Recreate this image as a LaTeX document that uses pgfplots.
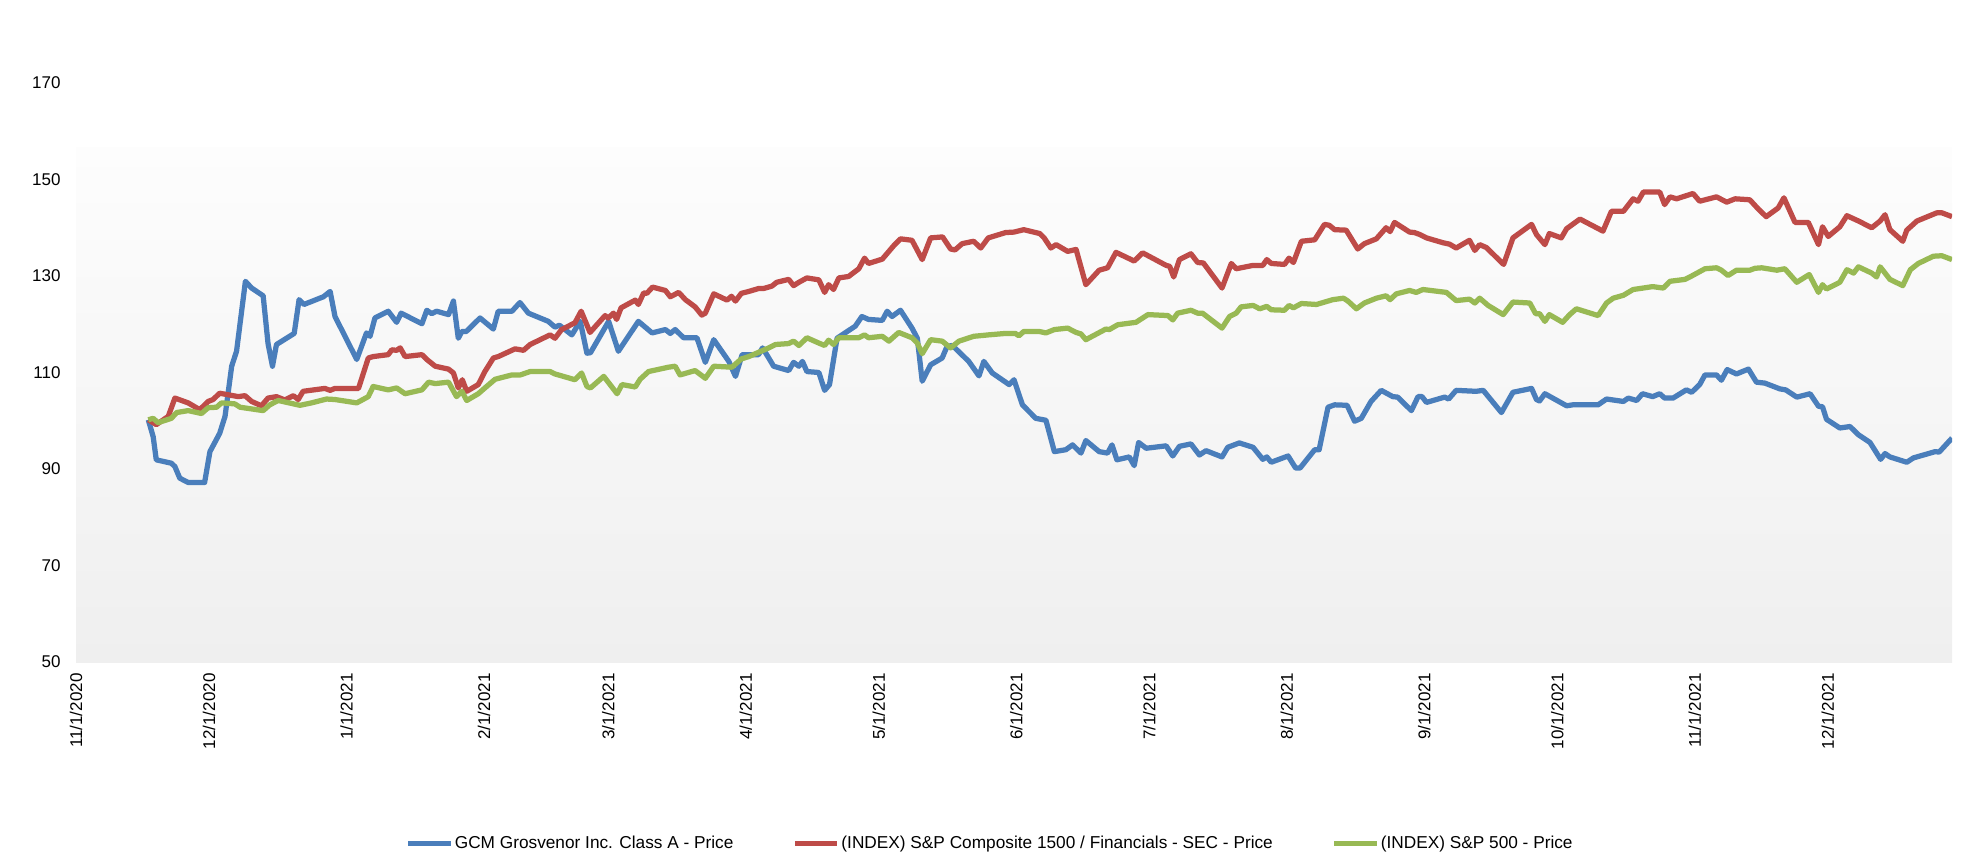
\documentclass[border=0pt]{standalone}
\usepackage{fontspec}
\setmainfont{Liberation Sans}
\usepackage{pgfplots}
\pgfplotsset{compat=1.18}
\definecolor{cblue}{HTML}{4A7EBB}
\definecolor{cred}{HTML}{BE4B48}
\definecolor{cgreen}{HTML}{98B954}
\definecolor{bgtop}{HTML}{FDFDFD}
\definecolor{bgbot}{HTML}{EFEFEF}
\begin{document}
\begin{tikzpicture}[font=\fontsize{6.8}{8}\selectfont]
\begin{axis}[
  at={(30.4pt,80.4pt)}, anchor=south west,
  width=750.4pt, height=231.6pt, scale only axis,
  xmin=0, xmax=423, ymin=50, ymax=170,
  axis line style={draw=none},
  tick style={draw=none},
  major tick length=0pt,
  ytick={50,70,90,110,130,150,170},
  /pgf/number format/assume math mode=true,
  xtick={0,30,61,92,120,151,181,212,242,273,304,334,365,395},
  xticklabels={11/1/2020,12/1/2020,1/1/2021,2/1/2021,3/1/2021,4/1/2021,5/1/2021,6/1/2021,7/1/2021,8/1/2021,9/1/2021,10/1/2021,11/1/2021,12/1/2021},
  xticklabel style={yshift=-4.4pt, rotate=90, anchor=east, inner sep=0pt},
  yticklabel style={anchor=east, inner sep=0pt, xshift=-6pt},
  legend columns=3,
  legend style={at={(0.4872,-0.3143)}, anchor=center, draw=none, fill=none,
    font=\fontsize{6.9}{8}\selectfont,
    /tikz/every even column/.append style={column sep=23pt},
    nodes={inner sep=0.6pt}},
  legend image code/.code={\draw[#1, line width=2pt] (0pt,0pt) -- (17pt,0pt);},
  every axis plot/.append style={line width=2.1pt, line join=round, no markers},
]
\fill[top color=bgtop, bottom color=bgbot] (axis cs:0,50) rectangle (axis cs:423,156.6);

\addplot[cblue] coordinates {
(16.3,100.2)(17.4,96.7)(18.1,91.9)(21.5,91.2)(22.3,90.5)(23.4,88.1)(25.3,87.2)(29.0,87.2)(30.2,93.6)(32.4,97.4)(33.6,100.9)(35.1,111.3)(36.2,114.4)(38.2,128.9)(39.6,127.5)(42.2,125.9)(43.3,116.0)(44.3,111.3)(45.2,115.8)(49.2,118.1)(50.3,125.1)(51.4,124.1)(55.8,125.7)(57.3,126.8)(58.4,121.6)(63.3,112.7)(65.5,118.2)(66.3,117.5)(67.4,121.3)(70.4,122.7)(72.3,120.4)(73.3,122.3)(78.0,120.1)(79.1,122.9)(80.2,122.2)(81.3,122.7)(84.0,122.0)(85.1,124.8)(86.2,117.1)(87.0,118.5)(88.0,118.5)(91.1,121.3)(94.1,119.0)(95.2,122.7)(98.3,122.7)(100.1,124.5)(102.0,122.3)(106.5,120.6)(108.0,119.4)(109.0,119.8)(111.8,117.8)(113.7,120.6)(115.2,114.0)(116.0,114.1)(120.1,120.6)(122.3,114.4)(126.8,120.6)(129.9,118.2)(132.9,118.9)(134.0,118.1)(135.1,118.9)(137.0,117.2)(140.0,117.2)(141.9,112.1)(143.8,116.8)(147.2,112.3)(148.7,109.2)(150.2,113.7)(153.9,113.7)(154.8,115.1)(156.2,113.0)(157.3,111.3)(160.7,110.4)(161.8,112.1)(163.0,111.3)(163.8,112.3)(164.8,110.2)(167.5,110.0)(168.8,106.3)(169.9,107.5)(171.6,117.1)(175.7,119.6)(177.2,121.6)(178.7,121.0)(181.8,120.8)(182.9,122.7)(184.0,121.6)(185.9,122.9)(188.5,119.2)(189.7,117.1)(190.8,108.2)(192.7,111.6)(195.3,113.0)(196.4,115.4)(197.6,115.6)(201.3,112.3)(203.6,109.3)(204.7,112.3)(206.6,109.9)(210.4,107.5)(211.5,108.5)(213.4,103.3)(216.4,100.5)(218.7,100.1)(220.6,93.6)(223.2,94.0)(224.7,95.0)(226.6,93.3)(227.7,95.9)(230.7,93.6)(232.6,93.3)(233.6,95.0)(234.7,91.9)(237.5,92.5)(238.6,90.7)(239.6,95.5)(241.3,94.3)(245.8,94.8)(247.3,92.7)(248.8,94.7)(251.4,95.2)(253.3,92.9)(254.8,93.8)(258.4,92.5)(259.7,94.5)(262.3,95.4)(265.4,94.5)(267.6,92.0)(268.5,92.5)(269.5,91.4)(273.3,92.7)(275.0,90.2)(276.0,90.2)(279.3,94.0)(280.3,94.0)(282.3,102.8)(283.8,103.3)(286.6,103.2)(288.3,99.9)(289.8,100.5)(292.0,104.0)(294.3,106.3)(296.9,105.0)(298.0,104.9)(301.1,102.1)(302.6,105.0)(303.5,105.0)(304.5,103.8)(308.6,104.9)(309.5,104.5)(311.2,106.3)(315.7,106.1)(317.3,106.3)(321.4,101.7)(324.0,105.9)(328.2,106.7)(329.3,104.4)(330.0,104.1)(331.2,105.6)(336.1,103.1)(337.5,103.3)(339.8,103.3)(343.2,103.3)(345.1,104.5)(348.9,104.0)(350.0,104.7)(351.9,104.2)(353.2,105.6)(355.5,105.0)(357.1,105.6)(358.2,104.7)(360.1,104.7)(363.1,106.4)(364.3,105.9)(366.1,107.5)(367.3,109.5)(369.9,109.5)(371.0,108.4)(372.3,110.6)(374.4,109.7)(377.1,110.7)(378.9,108.0)(380.8,107.8)(384.2,106.6)(385.5,106.4)(388.0,104.9)(391.0,105.6)(392.9,103.0)(393.8,102.9)(394.7,100.3)(397.7,98.5)(400.0,98.8)(401.9,97.1)(404.5,95.5)(406.9,92.0)(407.9,93.2)(409.0,92.5)(412.8,91.4)(414.3,92.3)(419.2,93.6)(420.1,93.5)(423.0,96.4)
};
\addlegendentry{GCM Grosvenor Inc. Class A - Price}

\addplot[cred] coordinates {
(16.3,100.2)(18.1,99.2)(20.8,100.9)(22.3,104.7)(25.3,103.7)(27.9,102.3)(29.8,104.0)(30.9,104.4)(32.4,105.7)(36.6,105.0)(38.1,105.2)(39.6,104.0)(41.8,103.1)(43.3,104.7)(45.2,105.0)(47.1,104.3)(49.0,105.2)(50.1,104.4)(51.2,106.1)(56.1,106.7)(57.3,106.3)(58.4,106.7)(63.7,106.7)(65.9,113.0)(67.0,113.3)(70.4,113.7)(71.2,114.7)(72.3,114.6)(73.1,115.1)(74.2,113.3)(78.0,113.7)(79.1,112.7)(81.0,111.3)(84.0,110.7)(85.1,109.9)(86.2,106.8)(87.1,108.5)(88.1,106.1)(90.7,107.5)(92.2,110.2)(94.1,113.0)(95.2,113.3)(99.0,114.9)(100.9,114.6)(102.4,115.8)(106.9,117.8)(108.0,117.1)(109.5,118.9)(112.5,120.3)(113.9,122.7)(115.9,118.3)(119.3,121.8)(120.0,121.3)(121.2,122.3)(121.9,121.0)(122.9,123.4)(126.1,125.0)(126.8,124.1)(128.0,126.5)(128.7,126.4)(130.0,127.7)(132.9,127.0)(134.0,125.7)(135.9,126.6)(137.4,125.1)(139.6,123.6)(141.1,121.9)(141.9,122.3)(143.8,126.3)(146.8,125.0)(147.8,125.8)(148.7,124.8)(150.0,126.4)(151.7,126.8)(153.9,127.4)(155.0,127.4)(156.9,127.9)(158.0,128.7)(160.7,129.3)(161.8,128.0)(163.0,128.7)(164.8,129.6)(167.5,129.2)(168.8,126.6)(169.7,128.2)(170.8,127.2)(172.0,129.6)(174.2,129.9)(176.5,131.5)(177.8,133.7)(178.7,132.6)(181.8,133.5)(184.4,136.3)(185.9,137.7)(188.5,137.4)(190.8,133.4)(192.7,137.9)(195.4,138.1)(197.2,135.6)(198.2,135.4)(199.8,136.7)(202.4,137.2)(204.0,135.8)(205.7,137.9)(209.6,139.0)(211.5,139.1)(213.7,139.6)(217.3,138.8)(218.3,137.9)(219.8,135.8)(221.0,136.5)(223.6,135.1)(225.5,135.5)(227.7,128.2)(230.7,131.2)(232.6,131.7)(234.5,134.9)(238.6,133.1)(240.5,134.8)(245.8,132.2)(246.6,132.0)(247.5,129.8)(248.8,133.4)(251.4,134.6)(252.9,132.8)(254.2,132.7)(258.4,127.5)(260.5,132.6)(261.6,131.5)(265.4,132.2)(267.6,132.2)(268.5,133.4)(269.5,132.6)(272.5,132.4)(273.5,133.7)(274.5,132.8)(276.3,137.2)(279.3,137.5)(281.5,140.7)(282.6,140.5)(283.8,139.6)(286.4,139.5)(289.0,135.6)(290.5,136.7)(293.2,137.7)(295.4,140.0)(296.3,139.2)(297.3,141.1)(300.7,139.1)(301.8,139.0)(303.0,138.6)(304.5,137.9)(308.2,136.9)(309.7,136.6)(311.2,135.8)(314.2,137.4)(315.4,135.3)(316.5,136.5)(318.0,135.9)(321.9,132.4)(324.0,137.9)(328.2,140.7)(329.3,138.6)(331.2,136.5)(332.2,138.8)(334.9,137.9)(336.1,139.8)(339.1,141.8)(344.3,139.3)(346.2,143.4)(348.9,143.4)(351.1,146.0)(352.2,145.5)(353.4,147.4)(357.1,147.4)(358.2,144.8)(359.4,146.4)(360.9,146.0)(364.6,147.1)(366.1,145.5)(369.9,146.4)(372.2,145.3)(374.1,146.0)(377.4,145.8)(379.3,143.9)(381.1,142.3)(383.8,144.1)(385.1,146.2)(387.6,141.1)(390.6,141.1)(392.9,136.5)(393.8,140.2)(395.1,138.2)(397.7,140.2)(399.3,142.5)(401.9,141.4)(404.9,140.0)(406.8,141.4)(407.9,142.7)(409.0,139.6)(411.9,137.2)(412.8,139.5)(415.1,141.4)(419.6,143.1)(420.7,143.1)(423.0,142.3)
};
\addlegendentry{(INDEX) S\&P Composite 1500 / Financials - SEC - Price}

\addplot[cgreen] coordinates {
(16.3,100.2)(17.4,100.5)(18.5,99.6)(21.5,100.5)(22.7,101.7)(25.3,102.1)(28.3,101.5)(29.8,102.7)(31.7,102.8)(32.8,103.7)(35.8,103.5)(37.0,102.8)(42.2,102.1)(43.7,103.3)(45.6,104.2)(50.5,103.2)(53.1,103.7)(56.5,104.5)(58.4,104.4)(63.3,103.7)(65.9,105.0)(67.0,107.1)(70.4,106.4)(72.3,106.8)(74.2,105.6)(78.0,106.4)(79.5,108.0)(81.0,107.7)(84.0,108.0)(85.8,105.0)(87.0,106.1)(88.1,104.2)(90.7,105.6)(92.2,106.8)(94.5,108.6)(98.3,109.5)(100.2,109.5)(102.4,110.2)(106.9,110.2)(108.0,109.7)(112.5,108.5)(114.0,109.9)(115.2,107.1)(116.0,106.8)(119.0,109.2)(122.0,105.6)(123.1,107.5)(126.1,107.0)(127.2,108.6)(129.1,110.2)(133.6,111.1)(135.1,111.3)(136.2,109.5)(139.6,110.4)(141.9,108.8)(143.8,111.3)(147.9,111.1)(150.0,112.8)(151.7,113.3)(156.2,115.1)(157.7,115.8)(160.7,116.0)(161.8,116.5)(163.0,115.6)(164.8,117.2)(167.5,116.1)(168.8,115.6)(169.7,116.7)(170.8,115.8)(172.0,117.2)(176.5,117.2)(177.8,117.8)(178.7,117.2)(181.8,117.5)(183.3,116.5)(185.5,118.3)(188.5,117.2)(189.7,116.1)(190.8,113.9)(192.7,116.8)(195.3,116.5)(197.2,115.1)(199.1,116.5)(202.4,117.5)(205.8,117.8)(209.6,118.1)(211.8,118.1)(212.6,117.6)(213.7,118.5)(217.2,118.5)(218.7,118.2)(220.6,118.9)(223.6,119.2)(225.5,118.3)(226.6,118.0)(227.7,116.8)(232.2,119.0)(233.0,118.9)(234.9,119.9)(239.0,120.4)(241.7,122.0)(246.2,121.8)(247.3,120.9)(248.4,122.3)(251.4,122.9)(252.9,122.3)(254.0,122.3)(258.4,119.2)(260.1,121.6)(261.6,122.3)(262.7,123.6)(265.4,123.9)(266.9,123.2)(268.5,123.7)(269.5,123.0)(272.5,122.9)(273.5,123.9)(274.5,123.4)(276.3,124.3)(279.7,124.1)(283.4,125.1)(285.8,125.4)(286.8,124.8)(288.7,123.2)(290.5,124.4)(293.2,125.4)(295.4,125.9)(296.3,125.1)(297.7,126.3)(300.7,127.0)(302.2,126.6)(303.7,127.2)(309.0,126.6)(311.2,124.9)(314.2,125.2)(315.4,124.4)(316.5,125.4)(318.4,123.9)(321.8,122.0)(324.0,124.6)(327.8,124.4)(329.1,122.2)(330.0,122.2)(331.2,120.6)(332.2,122.0)(335.2,120.4)(336.8,122.0)(338.3,123.2)(343.2,121.8)(345.1,124.4)(346.6,125.4)(348.9,126.0)(351.1,127.2)(352.6,127.4)(355.5,127.8)(357.9,127.5)(359.4,128.9)(362.8,129.3)(363.9,129.8)(367.3,131.5)(369.9,131.7)(371.0,131.2)(372.5,130.1)(374.4,131.2)(377.4,131.2)(378.6,131.6)(380.1,131.7)(383.5,131.2)(385.3,131.5)(388.0,128.7)(390.8,130.3)(392.9,126.6)(393.8,128.2)(394.7,127.3)(397.7,128.7)(399.3,131.3)(400.8,130.6)(401.9,131.9)(404.9,130.6)(406.0,129.8)(406.8,131.9)(409.0,129.3)(411.9,128.0)(413.6,131.3)(415.4,132.6)(418.8,134.1)(420.7,134.2)(423.0,133.4)
};
\addlegendentry{(INDEX) S\&P 500 - Price}
\end{axis}
\pgfresetboundingbox
\path[use as bounding box] (0pt,0pt) rectangle (786.4pt,345.2pt);
\end{tikzpicture}
\end{document}
